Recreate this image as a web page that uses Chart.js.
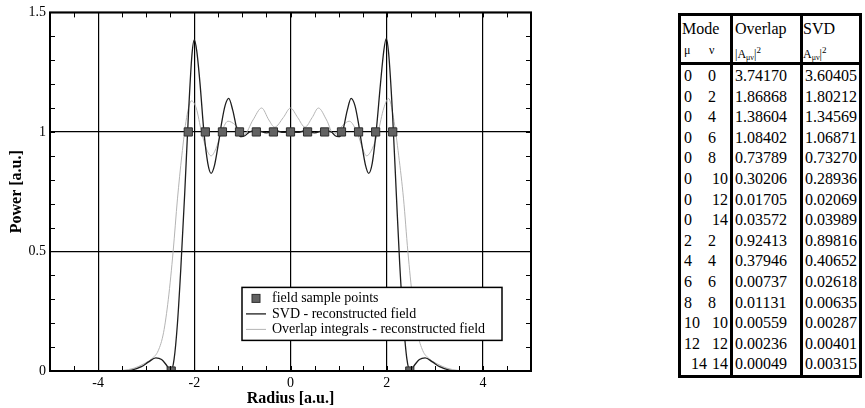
<!DOCTYPE html>
<html>
<head>
<meta charset="utf-8">
<script src="https://cdn.jsdelivr.net/npm/chart.js@4/dist/chart.umd.min.js"></script>
<style>
  body { margin: 0; background: #fff; width: 865px; height: 408px; position: relative; overflow: hidden; }
  #plot { position: absolute; left: 0; top: 0; }
  #modes { position: absolute; left: 678px; top: 13px; width: 184px; height: 365px; box-sizing: border-box;
    border: 3px solid #000; font-family: 'Liberation Serif', serif; font-size: 16px; color: #000; }
  #modes div { position: absolute; white-space: nowrap; line-height: 20px; }
  #modes div.vline { width: 3px; top: 0; bottom: 0; background: #000; }
  #modes div.hline { height: 3px; left: 0; right: 0; background: #000; }
  #modes div.small { font-size: 12px; }
  #modes sub { font-size: 8px; vertical-align: -2px; }
  #modes sup { font-size: 9px; vertical-align: 5px; }
</style>
</head>
<body>
<canvas id="plot" width="560" height="408"></canvas>
<div id="modes"></div>
<script>
var xTicks = [-4, -2, 0, 2, 4];
var yTicks = [0, 0.5, 1, 1.5];

var sampleRadius = [-2.48, -2.125, -1.77, -1.415, -1.06, -0.71, -0.355, 0, 0.355, 0.71, 1.06, 1.415, 1.77, 2.125, 2.48];
var samplePower = [0, 1, 1, 1, 1, 1, 1, 1, 1, 1, 1, 1, 1, 1, 0];

var svdRadius = [-5, -3.6, -3.3, -3.1, -2.95, -2.8, -2.68, -2.58, -2.49, -2.42, -2.35, -2.28, -2.2, -2.12, -2.05, -2.0,
  -1.95, -1.88, -1.8, -1.72, -1.65, -1.58, -1.5, -1.43, -1.36, -1.285, -1.2, -1.1, -1.02, -0.95, -0.85, -0.7, -0.5,
  -0.3, -0.15, 0, 0.15, 0.3, 0.5, 0.7, 0.85, 0.93, 1.0, 1.08, 1.18, 1.26, 1.34, 1.41, 1.48, 1.56, 1.625, 1.7, 1.78,
  1.87, 1.94, 1.99, 2.04, 2.12, 2.2, 2.27, 2.35, 2.42, 2.49, 2.58, 2.68, 2.8, 2.95, 3.1, 3.3, 3.6, 5];
var svdPower = [0, 0, 0.004, 0.018, 0.038, 0.055, 0.048, 0.025, 0, 0.05, 0.2, 0.43, 0.74, 1.08, 1.32, 1.385,
  1.34, 1.2, 1.0, 0.87, 0.827, 0.86, 0.95, 1.04, 1.11, 1.14, 1.09, 1.0, 0.98, 0.984, 1.0, 1.006, 0.996,
  1.005, 0.998, 1.0, 0.998, 1.005, 0.996, 1.006, 1.0, 0.984, 0.98, 1.0, 1.09, 1.14, 1.11, 1.04, 0.95, 0.86, 0.827, 0.87, 1.0,
  1.2, 1.34, 1.39, 1.33, 1.08, 0.74, 0.45, 0.2, 0.05, 0, 0.025, 0.048, 0.055, 0.038, 0.018, 0.004, 0, 0];

var overlapRadius = [-5, -3.8, -3.5, -3.25, -3.05, -2.88, -2.75, -2.64, -2.54, -2.44, -2.35, -2.26, -2.16, -2.06,
  -1.96, -1.85, -1.75, -1.65, -1.55, -1.45, -1.3, -1.15, -0.96, -0.78, -0.6, -0.45, -0.33, -0.15, 0,
  0.15, 0.3, 0.45, 0.58, 0.75, 0.9, 1.1, 1.22, 1.4, 1.5, 1.58, 1.7, 1.82, 1.94, 2.04, 2.14, 2.25, 2.35, 2.44,
  2.54, 2.64, 2.75, 2.88, 3.05, 3.25, 3.5, 3.8, 5];
var overlapPower = [0, 0, 0.002, 0.012, 0.03, 0.052, 0.085, 0.16, 0.3, 0.5, 0.72, 0.9, 1.06, 1.13,
  1.1, 1.0, 0.93, 0.9, 0.93, 0.99, 1.045, 1.03, 0.99, 1.05, 1.1, 1.05, 1.02, 1.06, 1.1,
  1.06, 1.02, 1.06, 1.1, 1.05, 0.99, 1.03, 1.045, 0.99, 0.93, 0.9, 0.93, 1.0, 1.1, 1.14, 1.06, 0.9, 0.72, 0.5,
  0.3, 0.16, 0.085, 0.052, 0.03, 0.012, 0.002, 0, 0];

var modeMu = [0, 0, 0, 0, 0, 0, 0, 0, 2, 4, 6, 8, 10, 12, 14];
var modeNu = [0, 2, 4, 6, 8, 10, 12, 14, 2, 4, 6, 8, 10, 12, 14];
var overlapA2 = [3.74170, 1.86868, 1.38604, 1.08402, 0.73789, 0.30206, 0.01705, 0.03572, 0.92413, 0.37946, 0.00737, 0.01131, 0.00559, 0.00236, 0.00049];
var svdA2 = [3.60405, 1.80212, 1.34569, 1.06871, 0.73270, 0.28936, 0.02069, 0.03989, 0.89816, 0.40652, 0.02618, 0.00635, 0.00287, 0.00401, 0.00315];

var serif = "'Liberation Serif', 'Times New Roman', serif";

function toPoints(xs, ys) {
  var pts = [];
  for (var i = 0; i < xs.length; i++) {
    pts.push({x: xs[i], y: ys[i]});
  }
  return pts;
}

function cell(html, left, mid, cls) {
  return '<div' + (cls ? ' class="' + cls + '"' : '') + ' style="left:' + left + 'px;top:' + (mid - 10) + 'px">' + html + '</div>';
}

// the mode table, positions are relative to the inside of its border
function buildTable() {
  var col2 = 54, col3 = 124;
  var html = '<div class="vline" style="left:49px"></div><div class="vline" style="left:119px"></div>' +
    '<div class="hline" style="top:46px"></div>';
  html += cell('Mode', 1, 13) + cell('Overlap', col2, 13) + cell('SVD', col3 - 2, 13);
  html += cell('&mu;', 3, 34, 'small') + cell('&nu;', 28, 34, 'small') +
    cell('|A<sub>&mu;&nu;</sub>|<sup>2</sup>', col2, 34, 'small') +
    cell('A<sub>&mu;&nu;</sub>|<sup>2</sup>', col3 - 2, 34, 'small');
  for (var i = 0; i < modeMu.length; i++) {
    var mid = 60 + i * 20.6;
    html += cell(String(modeMu[i]), modeMu[i] >= 14 ? 10 : 3, mid);
    html += cell(String(modeNu[i]), modeNu[i] >= 10 ? 31 : 27, mid);
    html += cell(overlapA2[i].toFixed(5), col2, mid);
    html += cell(svdA2[i].toFixed(5), col3, mid);
  }
  document.getElementById('modes').innerHTML = html;
}

// frame round the plot and the small inward ticks on all four sides
var frameTicks = {
  id: 'frameTicks',
  afterDatasetsDraw: function(chart) {
    var ctx = chart.ctx, a = chart.chartArea;
    var xs = chart.scales.x, ys = chart.scales.y;
    ctx.save();
    ctx.strokeStyle = '#000';
    ctx.lineWidth = 1;
    ctx.beginPath();
    for (var v = -4.5; v <= 4.51; v += 0.5) {
      var px = Math.round(xs.getPixelForValue(v)) + 0.5;
      ctx.moveTo(px, a.bottom); ctx.lineTo(px, a.bottom - 5);
      ctx.moveTo(px, a.top); ctx.lineTo(px, a.top + 5);
    }
    for (var w = 0.1; w < 1.45; w += 0.1) {
      var py = Math.round(ys.getPixelForValue(w)) + 0.5;
      ctx.moveTo(a.left, py); ctx.lineTo(a.left + 5, py);
      ctx.moveTo(a.right, py); ctx.lineTo(a.right - 5, py);
    }
    ctx.stroke();
    ctx.lineWidth = 2;
    ctx.strokeRect(a.left, a.top, a.right - a.left, a.bottom - a.top);
    ctx.restore();
  }
};

var insetLegend = {
  id: 'insetLegend',
  afterDraw: function(chart) {
    var ctx = chart.ctx, a = chart.chartArea;
    var left = a.left + 192, top = a.top + 275, w = 260, h = 53;
    ctx.save();
    ctx.fillStyle = '#fff';
    ctx.fillRect(left, top, w, h);
    ctx.strokeStyle = '#000';
    ctx.lineWidth = 1.5;
    ctx.strokeRect(left, top, w, h);
    ctx.font = '14px ' + serif;
    ctx.textBaseline = 'middle';
    var ds = chart.data.datasets;
    for (var i = 0; i < ds.length; i++) {
      var y = top + 11 + i * 15.5;
      if (ds[i].showLine === false) {
        ctx.fillStyle = ds[i].backgroundColor;
        ctx.fillRect(left + 10, y - 4, 8, 8);
        ctx.strokeStyle = ds[i].borderColor;
        ctx.lineWidth = 1;
        ctx.strokeRect(left + 10, y - 4, 8, 8);
      } else {
        ctx.strokeStyle = ds[i].borderColor;
        ctx.lineWidth = ds[i].borderWidth;
        ctx.beginPath();
        ctx.moveTo(left + 4, y); ctx.lineTo(left + 24, y);
        ctx.stroke();
      }
      ctx.fillStyle = '#000';
      ctx.fillText(ds[i].label, left + 30, y);
    }
    ctx.restore();
  }
};

function drawChart() {
  var ctx = document.getElementById('plot').getContext('2d');
  new Chart(ctx, {
    type: 'line',
    data: {
      datasets: [{
        label: 'field sample points',
        data: toPoints(sampleRadius, samplePower),
        showLine: false,
        pointStyle: 'rect',
        pointRadius: 5.8,
        backgroundColor: '#626262',
        borderColor: '#2e2e2e',
        borderWidth: 1
      }, {
        label: 'SVD - reconstructed field',
        data: toPoints(svdRadius, svdPower),
        borderColor: '#1e1e1e',
        borderWidth: 1.3,
        pointRadius: 0,
        cubicInterpolationMode: 'monotone'
      }, {
        label: 'Overlap integrals - reconstructed field',
        data: toPoints(overlapRadius, overlapPower),
        borderColor: '#b4b4b4',
        borderWidth: 1,
        pointRadius: 0,
        cubicInterpolationMode: 'monotone'
      }]
    },
    options: {
      responsive: false,
      animation: false,
      devicePixelRatio: 1,
      layout: {padding: {top: 12, right: 29, left: 0, bottom: 0}},
      plugins: {legend: {display: false}, tooltip: {enabled: false}},
      scales: {
        x: {
          type: 'linear', min: -5, max: 5,
          afterBuildTicks: function(s) { s.ticks = xTicks.map(function(v) { return {value: v}; }); },
          afterFit: function(s) { s.height = 37; },
          grid: {color: '#000', lineWidth: 1.2, drawTicks: false},
          border: {display: false},
          ticks: {padding: 4, color: '#000', font: {family: serif, size: 14},
            callback: function(v) { return String(v); }},
          title: {display: true, text: 'Radius [a.u.]', color: '#000', padding: {top: 0, bottom: 0},
            font: {family: serif, size: 16, weight: 'bold'}}
        },
        y: {
          min: 0, max: 1.5,
          afterBuildTicks: function(s) { s.ticks = yTicks.map(function(v) { return {value: v}; }); },
          afterFit: function(s) { s.width = 50; },
          grid: {color: '#000', lineWidth: 1.2, drawTicks: false},
          border: {display: false},
          ticks: {padding: 4, color: '#000', font: {family: serif, size: 14},
            callback: function(v) { return String(v); }},
          title: {display: true, text: 'Power [a.u.]', color: '#000', padding: {top: 7, bottom: 0},
            font: {family: serif, size: 16, weight: 'bold'}}
        }
      }
    },
    plugins: [frameTicks, insetLegend]
  });
}

buildTable();
drawChart();
</script>
</body>
</html>
